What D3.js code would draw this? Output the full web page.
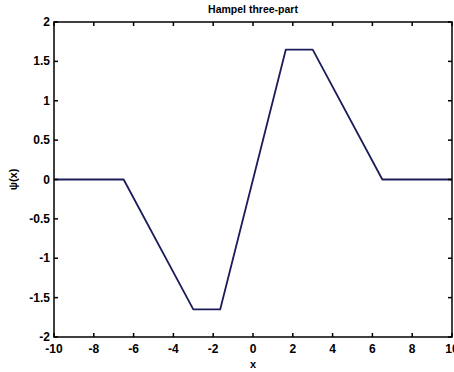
<!DOCTYPE html>
<html>
<head>
<meta charset="utf-8">
<script src="https://cdn.jsdelivr.net/npm/d3@7"></script>
<style>
  body { margin: 0; background: #fff; }
  text { font-family: "Liberation Sans", Arial, sans-serif; font-weight: bold; }
</style>
</head>
<body>
<script>
// psi(x) for the Hampel three-part function
const xs = [-10, -6.5, -3, -1.65, 1.65, 3, 6.5, 10];
const ys = [0, 0, -1.65, -1.65, 1.65, 1.65, 0, 0];
const xTicks = [-10, -8, -6, -4, -2, 0, 2, 4, 6, 8, 10];
const yTicks = [-2, -1.5, -1, -0.5, 0, 0.5, 1, 1.5, 2];

const W = 454, H = 372;
const m = { left: 54, right: 2, top: 22, bottom: 35 };

const svg = d3.select("body").append("svg")
  .attr("width", W)
  .attr("height", H);

const x = d3.scaleLinear().domain([-10, 10]).range([m.left, W - m.right]);
const y = d3.scaleLinear().domain([-2, 2]).range([H - m.bottom, m.top]);

const line = d3.line()
  .x((d, i) => x(xs[i]))
  .y((d, i) => y(ys[i]));

svg.append("path")
  .datum(xs)
  .attr("fill", "none")
  .attr("stroke", "#1c1c5c")
  .attr("stroke-width", 1.8)
  .attr("stroke-linejoin", "round")
  .attr("d", line);

const tk = 4;
const axes = svg.append("g").attr("stroke", "#000").attr("stroke-width", 1.5);

// box
axes.append("rect")
  .attr("x", x(-10)).attr("y", y(2))
  .attr("width", x(10) - x(-10)).attr("height", y(-2) - y(2))
  .attr("fill", "none");

// ticks, inward on all sides
xTicks.forEach(t => {
  axes.append("line").attr("x1", x(t)).attr("x2", x(t)).attr("y1", y(-2)).attr("y2", y(-2) - tk);
  axes.append("line").attr("x1", x(t)).attr("x2", x(t)).attr("y1", y(2)).attr("y2", y(2) + tk);
});
yTicks.forEach(t => {
  axes.append("line").attr("x1", x(-10)).attr("x2", x(-10) + tk).attr("y1", y(t)).attr("y2", y(t));
  axes.append("line").attr("x1", x(10)).attr("x2", x(10) - tk).attr("y1", y(t)).attr("y2", y(t));
});

const labels = svg.append("g").attr("font-size", 12).attr("fill", "#000");

xTicks.forEach(t => {
  labels.append("text")
    .attr("x", x(t)).attr("y", y(-2) + 16)
    .attr("text-anchor", "middle")
    .text(t);
});
yTicks.forEach(t => {
  labels.append("text")
    .attr("x", x(-10) - 4).attr("y", y(t) + 4)
    .attr("text-anchor", "end")
    .text(t);
});

svg.append("text")
  .attr("x", x(0)).attr("y", 13)
  .attr("text-anchor", "middle")
  .attr("font-size", 10.5)
  .text("Hampel three-part");

svg.append("text")
  .attr("x", x(0)).attr("y", 368)
  .attr("text-anchor", "middle")
  .attr("font-size", 11)
  .text("x");

svg.append("text")
  .attr("transform", `translate(17,${y(0)}) rotate(-90)`)
  .attr("text-anchor", "middle")
  .attr("font-size", 11)
  .text("ψ(x)");
</script>
</body>
</html>
